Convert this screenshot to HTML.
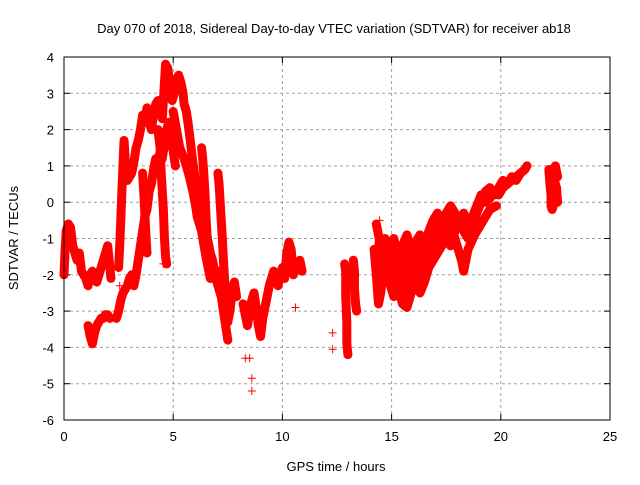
<!DOCTYPE html>
<html><head><meta charset="utf-8"><style>
body{margin:0;background:#fff}
svg text{font-family:"Liberation Sans",sans-serif;font-size:13px;fill:#000}
</style></head><body>
<svg id="chart" width="640" height="480" xmlns="http://www.w3.org/2000/svg">
<rect width="640" height="480" fill="#fff"/>
<text x="334" y="33" text-anchor="middle">Day 070 of 2018, Sidereal Day-to-day VTEC variation (SDTVAR) for receiver ab18</text>
<text x="336" y="471" text-anchor="middle">GPS time / hours</text>
<text transform="translate(18,238) rotate(-90)" text-anchor="middle">SDTVAR / TECUs</text>
<g id="grid"></g>
<g id="ticks"></g>
<g id="marks"></g>
<rect x="64" y="57" width="546" height="363" fill="none" stroke="#000" stroke-width="1"/>
</svg>
<script>
const xTicks=[0,5,10,15,20,25];
const yTicks=[4,3,2,1,0,-1,-2,-3,-4,-5,-6];
const trackStart=[[0,-2.0],[0.05,-1.3],[0.1,-0.8],[0.2,-0.6],[0.3,-0.7],[0.4,-1.2],[0.5,-1.4],[0.6,-1.6],[0.7,-1.4],[0.8,-1.9],[0.9,-2.0],[1.0,-2.1],[1.1,-2.3],[1.2,-2.0],[1.3,-1.9],[1.4,-2.1],[1.5,-2.2],[1.6,-2.0],[1.7,-1.8],[1.8,-1.6],[1.9,-1.4],[2.0,-1.2],[2.05,-1.5],[2.1,-1.8],[2.15,-2.1]];
const trackLow=[[1.1,-3.4],[1.2,-3.7],[1.3,-3.9],[1.4,-3.6],[1.5,-3.4],[1.6,-3.3],[1.7,-3.2],[1.8,-3.2],[1.9,-3.1],[2.0,-3.1],[2.1,-3.2]];
const trackRise=[[2.4,-3.2],[2.5,-3.0],[2.6,-2.7],[2.7,-2.5],[2.8,-2.4],[2.9,-2.3],[3.0,-2.1],[3.1,-2.0],[3.2,-2.3],[3.3,-2.0],[3.4,-1.6],[3.5,-1.2],[3.6,-0.8],[3.7,-0.4],[3.8,-0.2],[3.9,0.3],[4.0,0.5],[4.1,0.9],[4.2,1.2],[4.3,1.0],[4.4,1.4],[4.5,1.2],[4.6,1.6],[4.7,2.0],[4.8,2.2],[4.9,1.7],[5.0,1.4],[5.1,1.0]];
const trackSpike=[[2.5,-1.8],[2.55,-1.2],[2.6,-0.5],[2.65,0.3],[2.7,1.0],[2.75,1.7],[2.8,1.2],[2.9,0.6],[3.0,0.7],[3.1,0.8],[3.2,1.1],[3.3,1.5],[3.4,1.7],[3.5,2.0],[3.6,2.4],[3.7,2.2],[3.8,2.6],[3.9,2.2],[4.0,2.0],[4.1,2.4],[4.2,2.7],[4.3,2.8],[4.4,2.5],[4.5,2.3],[4.6,3.3],[4.65,3.8],[4.75,3.7],[4.85,3.2],[4.95,2.8],[5.05,3.0],[5.15,3.4],[5.25,3.5],[5.35,3.3],[5.45,3.0],[5.5,2.7],[5.6,2.5],[5.7,2.1],[5.8,1.6],[5.9,1.1],[6.0,0.7],[6.1,0.5],[6.2,0.2],[6.3,-0.2],[6.4,-0.5],[6.5,-0.8],[6.6,-1.1],[6.7,-1.4],[6.8,-1.6],[6.9,-1.9],[7.0,-2.2],[7.1,-2.4],[7.2,-2.6],[7.3,-3.0],[7.4,-3.4],[7.5,-3.8]];
const trackMid=[[5.0,2.5],[5.3,1.5],[5.5,1.2],[5.7,0.8],[5.9,0.3],[6.0,0],[6.1,-0.4],[6.3,-0.8],[6.5,-1.5],[6.7,-2.1],[6.9,-2.0],[7.1,-1.9],[7.3,-2.2]];
const trackHang=[[3.6,0.8],[3.65,0.3],[3.7,-0.3],[3.75,-0.9],[3.8,-1.4]];
const trackHang2=[[4.3,2.0],[4.4,1.5],[4.45,0.8],[4.5,0.3],[4.55,-0.2],[4.6,-1.0],[4.65,-1.5],[4.7,-1.7]];
const track6=[[6.3,1.5],[6.35,1.2],[6.4,0.8],[6.45,0.3],[6.5,-0.4],[6.55,-0.9],[6.6,-1.3]];
const track7=[[7.05,0.8],[7.1,0.5],[7.15,0],[7.2,-0.5],[7.25,-1.0],[7.3,-1.6],[7.35,-2.1],[7.4,-2.6],[7.45,-3.0],[7.5,-3.3],[7.6,-3.0],[7.7,-2.4],[7.8,-2.2],[7.9,-2.6]];
const track9=[[8.2,-2.8],[8.3,-3.1],[8.4,-3.4],[8.5,-3.0],[8.6,-2.7],[8.7,-2.5],[8.8,-2.9],[8.9,-3.4],[9.0,-3.7],[9.1,-3.2],[9.2,-2.9],[9.3,-2.6],[9.4,-2.3],[9.5,-2.1],[9.6,-1.9],[9.7,-2.1],[9.8,-2.3],[9.9,-2.0],[10.0,-1.8],[10.1,-2.1],[10.2,-1.4],[10.3,-1.1],[10.4,-1.3],[10.5,-2.0],[10.6,-1.8],[10.7,-1.7],[10.8,-1.6],[10.9,-1.9]];
const track13=[[12.85,-1.7],[12.9,-1.9],[12.9,-2.6],[12.95,-3.3],[12.95,-3.9],[13.0,-4.2]];
const track13b=[[13.25,-1.6],[13.3,-1.9],[13.3,-2.4],[13.35,-2.8],[13.4,-3.0]];
const bandLow=[[14.2,-1.3],[14.3,-2.0],[14.4,-2.8],[14.5,-2.5],[14.7,-1.5],[14.9,-2.2],[15.1,-2.6],[15.3,-2.4],[15.5,-2.8],[15.7,-2.9],[15.9,-2.5],[16.1,-2.2],[16.3,-2.5],[16.5,-2.2],[16.7,-1.8],[16.9,-1.6],[17.1,-1.4],[17.3,-1.2],[17.5,-1.0],[17.7,-1.2],[17.9,-0.8],[18.1,-0.6],[18.3,-0.3],[18.5,-0.6],[18.7,-0.4],[18.9,-0.1],[19.1,0.2],[19.3,0.0],[19.5,0.1],[19.7,0.3],[19.9,0.2],[20.1,0.4],[20.3,0.5],[20.5,0.6],[20.7,0.7],[20.9,0.8],[21.1,0.9],[21.2,1.0]];
const bandHigh=[[14.3,-0.6],[14.5,-1.2],[14.7,-1.0],[14.9,-1.4],[15.1,-1.0],[15.3,-1.5],[15.5,-1.2],[15.7,-0.9],[15.9,-1.3],[16.1,-1.1],[16.3,-0.9],[16.5,-1.2],[16.7,-0.8],[16.9,-0.5],[17.1,-0.3],[17.3,-0.6],[17.5,-0.3],[17.7,-0.1],[17.9,-0.3],[18.1,-0.5],[18.3,-0.8],[18.5,-1.0],[18.7,-0.6],[18.9,-0.3],[19.1,0.0],[19.3,0.3],[19.5,0.4],[19.7,0.2],[19.9,0.4],[20.1,0.6],[20.3,0.5],[20.5,0.7],[20.7,0.6],[20.9,0.8]];
const bandMid=[[15.0,-1.8],[15.3,-2.0],[15.6,-1.7],[15.9,-1.9],[16.2,-1.6],[16.5,-1.7],[16.8,-1.3],[17.1,-1.0],[17.4,-0.8],[17.7,-0.6],[18.0,-1.2],[18.2,-1.6],[18.3,-1.9],[18.5,-1.3],[18.8,-0.9],[19.2,-0.5],[19.5,-0.2],[19.8,-0.1]];
const trackEnd=[[22.2,0.9],[22.25,0.5],[22.3,0.2],[22.3,-0.1],[22.35,-0.2],[22.45,0.0],[22.55,0.2],[22.6,0.0],[22.55,0.4],[22.45,0.6],[22.4,0.9],[22.5,1.0],[22.6,0.7]];
const outliers=[[8.3,-4.3],[8.5,-4.3],[8.6,-4.85],[8.6,-5.2],[10.6,-2.9],[12.3,-3.6],[12.3,-4.05],[4.55,-1.7],[2.55,-2.3],[14.45,-0.5]];
const tracks=[trackStart,trackLow,trackRise,trackSpike,trackMid,trackHang,trackHang2,track6,track7,track9,track13,track13b,bandLow,bandHigh,bandMid,trackEnd];

const X0=64,X1=610,Y0=57,Y1=420;
function xs(t){return X0+(t-0)/(25-0)*(X1-X0);}
function ys(v){return Y0+(4-v)/(4-(-6))*(Y1-Y0);}
const NS='http://www.w3.org/2000/svg';
const grid=document.getElementById('grid'),ticks=document.getElementById('ticks'),marks=document.getElementById('marks');
function mk(tag,attrs,parent){const e=document.createElementNS(NS,tag);for(const k in attrs)e.setAttribute(k,attrs[k]);parent.appendChild(e);return e;}
xTicks.forEach(t=>{const x=xs(t);
  if(t>0&&t<25){const g=mk('line',{x1:x,x2:x,y1:Y0,y2:Y1,stroke:'#a0a0a0','stroke-dasharray':'3,3'},grid);
  
  }
  const l=mk('line',{x1:x,x2:x,y1:Y1,y2:Y1-6,stroke:'#000'},ticks);
  
  
  const l2=mk('line',{x1:x,x2:x,y1:Y0,y2:Y0+6,stroke:'#000'},ticks);
  
  
  const tx=mk('text',{x:x,y:Y1+21,'text-anchor':'middle'},ticks);tx.textContent=t;
  
  
});
yTicks.forEach(v=>{const y=ys(v);
  if(v<4&&v>-6){const g=mk('line',{x1:X0,x2:X1,y1:y,y2:y,stroke:'#a0a0a0','stroke-dasharray':'3,3'},grid);
  
  }
  const l=mk('line',{x1:X0,x2:X0+6,y1:y,y2:y,stroke:'#000'},ticks);
  
  
  const l2=mk('line',{x1:X1,x2:X1-6,y1:y,y2:y,stroke:'#000'},ticks);
  
  
  const tx=mk('text',{x:X0-10,y:y+5,'text-anchor':'end'},ticks);tx.textContent=v;
  
  
});
function plus(t,v){const x=xs(t),y=ys(v);
  const p=mk('path',{d:`M${x-4},${y}H${x+4}M${x},${y-4}V${y+4}`,stroke:'#f00','stroke-width':1},marks);
  
  
}
// filled envelope between upper and lower edges of the afternoon band
const env=bandHigh.concat(bandLow.slice().reverse());
const poly=mk('polygon',{points:env.map(p=>xs(p[0])+','+ys(p[1])).join(' '),fill:'#f00',stroke:'none'},marks);


tracks.forEach(tr=>{
  const pl=mk('polyline',{points:tr.map(p=>xs(p[0])+','+ys(p[1])).join(' '),fill:'none',stroke:'#f00','stroke-width':9,'stroke-linejoin':'round','stroke-linecap':'round'},marks);
  
  
  tr.forEach(p=>plus(p[0],p[1]));
});
outliers.forEach(p=>plus(p[0],p[1]));
</script>
</body></html>
